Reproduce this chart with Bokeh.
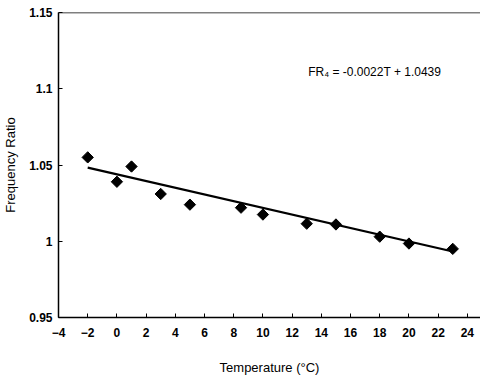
import math
from bokeh.plotting import figure
from bokeh.models import ColumnDataSource, FixedTicker, Span, Range1d
from bokeh.core.properties import value
from bokeh.embed import file_html
from bokeh.resources import INLINE

temperature = [-2, 0, 1, 3, 5, 8.5, 10, 13, 15, 18, 20, 23]
freq_ratio = [1.055, 1.039, 1.049, 1.031, 1.024, 1.022, 1.0175, 1.0115, 1.011, 1.003, 0.9985, 0.995]
slope = -0.0022
intercept = 1.0439
fit_x = [-2, 23]
fit_y = [slope * t + intercept for t in fit_x]
x_ticks = list(range(-4, 25, 2))
y_ticks = [0.95, 1.0, 1.05, 1.1, 1.15]
y_tick_labels = {0.95: "0.95", 1.0: "1", 1.05: "1.05", 1.1: "1.1", 1.15: "1.15"}
equation = "FR\u2084 = -0.0022T + 1.0439"

FONT = "Liberation Sans"

p = figure(width=480, height=378, output_backend="svg", toolbar_location=None,
           x_range=Range1d(-4, 24.9), y_range=Range1d(0.95, 1.15),
           min_border_left=55, min_border_right=0, min_border_top=12, min_border_bottom=61)
p.outline_line_color = None
p.xgrid.visible = False
p.ygrid.visible = False
p.background_fill_color = "white"
p.border_fill_color = "white"

src = ColumnDataSource(dict(x=temperature, y=freq_ratio))
p.line(fit_x, fit_y, line_color="black", line_width=2.2)
p.scatter("x", "y", source=src, marker="square", angle=math.pi / 4, size=8,
          fill_color="black", line_color="black")

p.text(x=[13.1], y=[1.1107], text=[equation], text_font=value(FONT), text_font_size="12px",
       text_baseline="middle", text_align="left", text_color="black")

p.add_layout(Span(location=1.15, dimension="width", line_color="black", line_width=1.5))

for ax in (p.xaxis[0], p.yaxis[0]):
    ax.axis_line_color = "black"
    ax.axis_line_width = 1.5
    ax.major_tick_in = 4
    ax.major_tick_out = 0
    ax.minor_tick_line_color = None
    ax.major_label_text_font = FONT
    ax.major_label_text_font_size = "12px"
    ax.major_label_text_font_style = "bold"
    ax.major_label_text_color = "black"
    ax.axis_label_text_font = FONT
    ax.axis_label_text_font_size = "13px"
    ax.axis_label_text_font_style = "normal"
    ax.axis_label_text_color = "black"

p.xaxis.ticker = FixedTicker(ticks=x_ticks)
p.yaxis.ticker = FixedTicker(ticks=y_ticks)
p.yaxis.major_label_overrides = y_tick_labels
p.xaxis.axis_label = "Temperature (\u00b0C)"
p.yaxis.axis_label = "Frequency Ratio"
p.xaxis.major_label_standoff = 10
p.xaxis.axis_label_standoff = 20
p.yaxis.major_label_standoff = 6
p.yaxis.axis_label_standoff = 8

open("out.html", "w").write(file_html(p, INLINE))
